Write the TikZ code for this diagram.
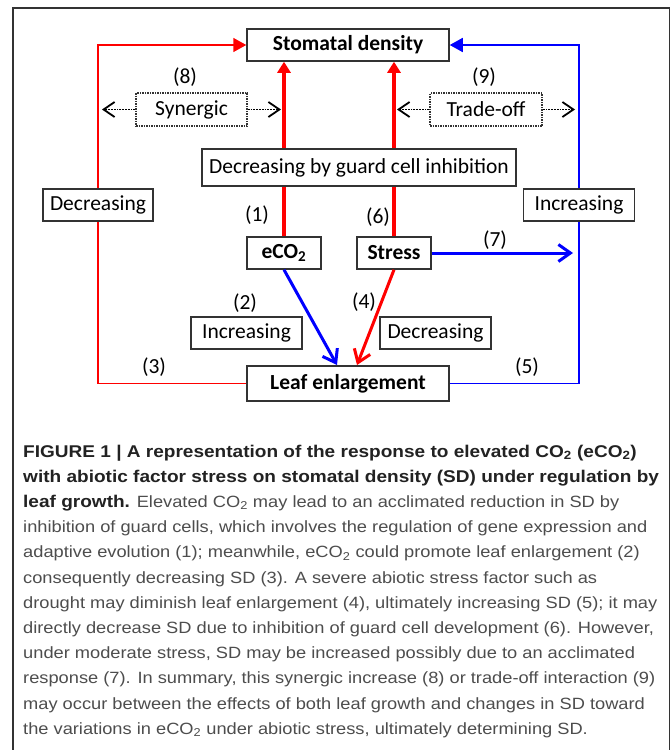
\documentclass[tikz,border=0pt]{standalone}
\usepackage{fontspec}
\setmainfont{Carlito}
\newfontfamily\capfont{Liberation Sans}[FakeStretch=1.12]
\usetikzlibrary{arrows.meta}
\definecolor{boxc}{HTML}{333333}
\definecolor{capbody}{HTML}{4D4D4D}
\definecolor{captitle}{HTML}{222222}
\definecolor{myred}{HTML}{FF0000}
\definecolor{myblue}{HTML}{0000FF}
\newcommand{\capbold}[1]{{\fontsize{17}{20}\selectfont\bfseries\color{captitle}#1}}
\begin{document}
\begin{tikzpicture}[x=1pt,y=-1pt,
  box/.style={draw=boxc, line width=1.5pt, inner sep=0pt, minimum height=32pt,
    font=\fontsize{21.5}{24}\selectfont, text=black},
  dotbox/.style={box, densely dotted},
  lbl/.style={inner sep=0pt, font=\fontsize{21.5}{24}\selectfont, text=black},
  thinred/.style={draw=myred, line width=1.6pt},
  thinblue/.style={draw=myblue, line width=1.6pt},
  fatred/.style={draw=myred, line width=3.5pt},
  redtip/.style={-{Triangle[length=11pt,width=13pt]}},
  sidetip/.style={-{Triangle[length=13pt,width=14pt]}},
  barb/.style={-{Straight Barb[length=12pt,width=17pt]}},
  dotarrow/.style={draw=black, line width=1.8pt, densely dotted,
    -{Straight Barb[length=11pt,width=15pt]}},
  capline/.style={anchor=base west, inner sep=0pt,
    font=\capfont\fontsize{16.3}{20}\selectfont, text=capbody}
]
\useasboundingbox (0,0) rectangle (672,750);
\fill[white] (0,0) rectangle (672,750);
% outer frame
\draw[draw=boxc, line width=1.2pt] (13,750) -- (13,8) -- (669.5,8) -- (669.5,750);

% nodes
\node[box, minimum width=202pt] (sd) at (348,45) {\textbf{Stomatal density}};
\node[box, minimum width=314pt, minimum height=37pt] (guard) at (359,167.5) {Decreasing by guard cell inhibition};
\node[dotbox, minimum width=111pt, minimum height=33pt] (syn) at (191.5,109.5) {Synergic};
\node[dotbox, minimum width=112pt, minimum height=33pt] (trade) at (486,109.5) {Trade-off};
\node[box, minimum width=110pt] (decl) at (98,205) {Decreasing};
\node[box, minimum width=111pt] (incr) at (579,205) {Increasing};
\node[box, minimum width=74pt] (eco) at (284,253) {\textbf{eCO\textsubscript{2}}};
\node[box, minimum width=74pt] (stress) at (394,253) {\textbf{Stress}};
\node[box, minimum width=111pt] (inc2) at (246.5,333) {Increasing};
\node[box, minimum width=111pt] (dec4) at (435.5,333) {Decreasing};
\node[box, minimum width=202pt, minimum height=35pt] (leaf) at (348,383.5) {\textbf{Leaf enlargement}};

% number labels
\node[lbl] (n8) at (185,77) {(8)};
\node[lbl] (n9) at (484,77) {(9)};
\node[lbl] (n1) at (257,215) {(1)};
\node[lbl] (n6) at (378,217) {(6)};
\node[lbl] (n7) at (495,240) {(7)};
\node[lbl] (n2) at (245,303) {(2)};
\node[lbl] (n4) at (364,302) {(4)};
\node[lbl] (n3) at (154,367) {(3)};
\node[lbl] (n5) at (527,367) {(5)};

% free ends
\coordinate (t7) at (573,253);
\coordinate (tb) at (337,365);
\coordinate (tr) at (357,365);
\coordinate (s1) at (102,109.5);
\coordinate (s2) at (281,109.5);
\coordinate (s3) at (397,109.5);
\coordinate (s4) at (575,109.5);

% side loops
\draw[thinred] (leaf.west) -| (decl.south);
\draw[thinred, sidetip] (decl.north) |- (sd.west);
\draw[thinblue] (leaf.east) -| (incr.south);
\draw[thinblue, sidetip] (incr.north) |- (sd.east);

% vertical red arrows
\draw[fatred] (eco.north) -- (eco.north |- guard.south);
\draw[fatred, redtip] (eco.north |- guard.north) -- (eco.north |- sd.south);
\draw[fatred] (stress.north) -- (stress.north |- guard.south);
\draw[fatred, redtip] (stress.north |- guard.north) -- (stress.north |- sd.south);

% stress effects
\draw[draw=myblue, line width=3pt, barb] (stress.east) -- (t7);
\draw[draw=myblue, line width=3pt, barb] (eco.south) -- (tb);
\draw[draw=myred, line width=3pt, barb] (stress.south) -- (tr);

% dotted interaction arrows
\draw[dotarrow] (syn.west) -- (s1);
\draw[dotarrow] (syn.east) -- (s2);
\draw[dotarrow] (trade.west) -- (s3);
\draw[dotarrow] (trade.east) -- (s4);

% caption
\node[capline] (c1) at (23,457) {\capbold{FIGURE 1 | A representation of the response to elevated CO\textsubscript{2} (eCO\textsubscript{2})}};
\node[capline] (c2) at (23,482.2) {\capbold{with abiotic factor stress on stomatal density (SD) under regulation by}};
\node[capline] (c3) at (23,507.4) {\capbold{leaf growth.} Elevated CO\textsubscript{2} may lead to an acclimated reduction in SD by};
\node[capline] (c4) at (23,532.6) {inhibition of guard cells, which involves the regulation of gene expression and};
\node[capline] (c5) at (23,557.8) {adaptive evolution (1); meanwhile, eCO\textsubscript{2} could promote leaf enlargement (2)};
\node[capline] (c6) at (23,583) {consequently decreasing SD (3). A severe abiotic stress factor such as};
\node[capline] (c7) at (23,608.2) {drought may diminish leaf enlargement (4), ultimately increasing SD (5); it may};
\node[capline] (c8) at (23,633.4) {directly decrease SD due to inhibition of guard cell development (6). However,};
\node[capline] (c9) at (23,658.6) {under moderate stress, SD may be increased possibly due to an acclimated};
\node[capline] (c10) at (23,683.8) {response (7). In summary, this synergic increase (8) or trade-off interaction (9)};
\node[capline] (c11) at (23,709) {may occur between the effects of both leaf growth and changes in SD toward};
\node[capline] (c12) at (23,734.2) {the variations in eCO\textsubscript{2} under abiotic stress, ultimately determining SD.};
\end{tikzpicture}
\end{document}
